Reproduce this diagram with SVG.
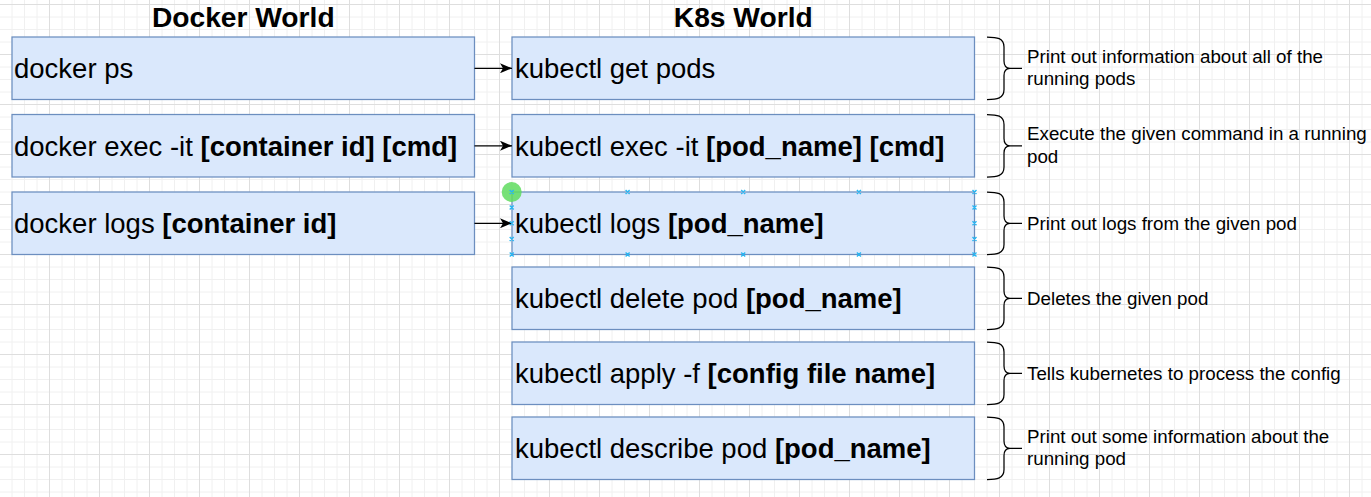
<svg xmlns="http://www.w3.org/2000/svg" width="1371" height="497" viewBox="0 0 1371 497">
<style>
.box{fill:#dae8fc;stroke:#6c8ebf;stroke-width:1.25}
.t{font-family:"Liberation Sans",Arial,sans-serif;font-size:27.5px;fill:#000}
.b{font-weight:bold}
.h{font-family:"Liberation Sans",Arial,sans-serif;font-size:28.2px;font-weight:bold;fill:#000;text-anchor:middle}
.d{font-family:"Liberation Sans",Arial,sans-serif;font-size:18.75px;fill:#000}
.edge{stroke:#000;stroke-width:1.25;fill:none}
.brace{stroke:#000;stroke-width:1.25;fill:none}
.hx{stroke:#29b6f2;stroke-width:1.4;fill:none}
</style>
<defs>
<pattern id="grid" x="-1" y="4" width="50" height="50" patternUnits="userSpaceOnUse">
<path d="M13 0V50M25.5 0V50M38 0V50M0 13H50M0 25.5H50M0 38H50" stroke="#f0f0f0" stroke-width="1" fill="none"/>
<path d="M0.5 0V50M0 0.5H50" stroke="#dedede" stroke-width="1" fill="none"/>
</pattern>
<marker id="arr" viewBox="0 0 12 10" refX="12" refY="5" markerWidth="12" markerHeight="10" markerUnits="userSpaceOnUse" orient="auto">
<path d="M0 0L12 5L0 10L3 5Z" fill="#000"/>
</marker>
<path id="br" d="M0 0C10 0 17 1 17 10V24C17 29 19 31.25 23 31.25H35M23 31.25C19 31.25 17 33.5 17 38.5V52.5C17 61.5 10 62.5 0 62.5"/>
</defs>
<rect width="1371" height="497" fill="#ffffff"/>
<rect width="1371" height="497" fill="url(#grid)"/>

<text class="h" x="243.25" y="26.9">Docker World</text>
<text class="h" x="743.25" y="26.9">K8s World</text>

<g id="docker-ps"><rect class="box" x="12" y="37" width="462.5" height="62.5"/><text class="t" x="14" y="78">docker ps</text></g>
<g id="docker-exec"><rect class="box" x="12" y="114.5" width="462.5" height="62.5"/><text class="t" x="14" y="155.5">docker exec -it <tspan class="b">[container id] [cmd]</tspan></text></g>
<g id="docker-logs"><rect class="box" x="12" y="192" width="462.5" height="62.5"/><text class="t" x="14" y="233">docker logs <tspan class="b">[container id]</tspan></text></g>

<g id="k-get"><rect class="box" x="512" y="37" width="462.5" height="62.5"/><text class="t" x="515" y="78">kubectl get pods</text></g>
<g id="k-exec"><rect class="box" x="512" y="114.5" width="462.5" height="62.5"/><text class="t" x="515" y="155.5">kubectl exec -it <tspan class="b">[pod_name] [cmd]</tspan></text></g>
<g id="k-logs"><rect class="box" x="512" y="192" width="462.5" height="62.5"/><text class="t" x="515" y="233">kubectl logs <tspan class="b">[pod_name]</tspan></text></g>
<g id="k-delete"><rect class="box" x="512" y="267" width="462.5" height="62.5"/><text class="t" x="515" y="308">kubectl delete pod <tspan class="b">[pod_name]</tspan></text></g>
<g id="k-apply"><rect class="box" x="512" y="342" width="462.5" height="62.5"/><text class="t" x="515" y="383">kubectl apply -f <tspan class="b">[config file name]</tspan></text></g>
<g id="k-describe"><rect class="box" x="512" y="417" width="462.5" height="62.5"/><text class="t" x="515" y="458">kubectl describe pod <tspan class="b">[pod_name]</tspan></text></g>

<g id="connectors">
<line class="edge" x1="474.5" y1="68.25" x2="512" y2="68.25" marker-end="url(#arr)"/>
<line class="edge" x1="474.5" y1="145.75" x2="512" y2="145.75" marker-end="url(#arr)"/>
<line class="edge" x1="474.5" y1="223.25" x2="512" y2="223.25" marker-end="url(#arr)"/>
</g>

<g id="notes">
<use href="#br" class="brace" x="987" y="37"/>
<use href="#br" class="brace" x="987" y="114.5"/>
<use href="#br" class="brace" x="987" y="192"/>
<use href="#br" class="brace" x="987" y="267"/>
<use href="#br" class="brace" x="987" y="342"/>
<use href="#br" class="brace" x="987" y="417"/>
<text class="d" x="1027" y="62.7">Print out information about all of the</text>
<text class="d" x="1027" y="85.2">running pods</text>
<text class="d" x="1027" y="140.2">Execute the given command in a running</text>
<text class="d" x="1027" y="162.7">pod</text>
<text class="d" x="1027" y="229.5">Print out logs from the given pod</text>
<text class="d" x="1027" y="304.5">Deletes the given pod</text>
<text class="d" x="1027" y="379.5">Tells kubernetes to process the config</text>
<text class="d" x="1027" y="442.7">Print out some information about the</text>
<text class="d" x="1027" y="465.2">running pod</text>
</g>

<g id="selection">
<circle cx="511.7" cy="192" r="10" fill="#5fdc5f" fill-opacity="0.85"/>
<path class="hx" d="M509.7 190l4 4m0-4l-4 4M625.6 190l4 4m0-4l-4 4M741.2 190l4 4m0-4l-4 4M856.9 190l4 4m0-4l-4 4M972.5 190l4 4m0-4l-4 4M509.7 252.5l4 4m0-4l-4 4M625.6 252.5l4 4m0-4l-4 4M741.2 252.5l4 4m0-4l-4 4M856.9 252.5l4 4m0-4l-4 4M972.5 252.5l4 4m0-4l-4 4M509.7 205.6l4 4m0-4l-4 4M509.7 221.2l4 4m0-4l-4 4M509.7 236.9l4 4m0-4l-4 4M972.5 205.6l4 4m0-4l-4 4M972.5 221.2l4 4m0-4l-4 4M972.5 236.9l4 4m0-4l-4 4"/>
</g>
</svg>
